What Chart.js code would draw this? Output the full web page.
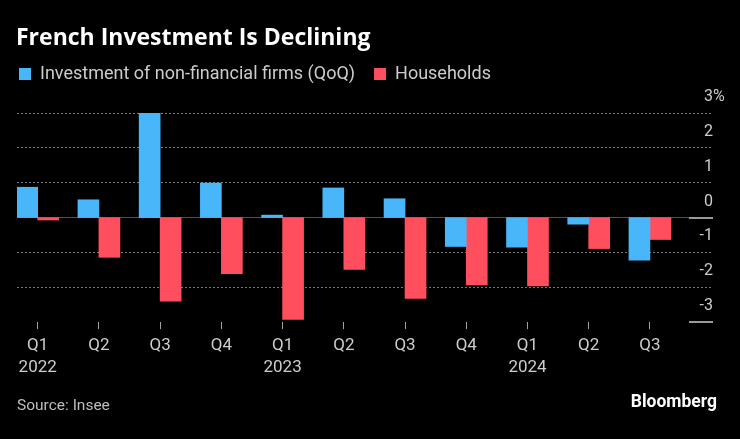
<!DOCTYPE html>
<html>
<head>
<meta charset="utf-8">
<script src="https://cdn.jsdelivr.net/npm/chart.js@4.4.1/dist/chart.umd.min.js"></script>
<style>
html,body{margin:0;padding:0;background:#000;}
#wrap{position:relative;width:740px;height:439px;overflow:hidden;background:#000;}
#c{position:absolute;left:0;top:0;}
.txt{position:absolute;white-space:nowrap;line-height:1;font-family:Roboto,"Noto Sans",sans-serif;}
#title{left:16px;top:25px;font-size:23px;font-weight:bold;color:#fff;font-family:"Open Sans",Roboto,sans-serif;}
#source{left:17px;top:398px;font-size:15.5px;color:#bdbdbd;}
#brand{right:23px;top:393px;font-size:17.5px;font-weight:bold;color:#fff;}
</style>
</head>
<body>
<div id="wrap">
<canvas id="c" width="740" height="439"></canvas>
<div class="txt" id="title">French Investment Is Declining</div>
<div class="txt" id="source">Source: Insee</div>
<div class="txt" id="brand">Bloomberg</div>
</div>
<script>
// ---- data ----
const quarters = ['Q1','Q2','Q3','Q4','Q1','Q2','Q3','Q4','Q1','Q2','Q3'];
const years    = ['2022','','','','2023','','','','2024','',''];
const firms      = [0.87, 0.51, 3.00, 0.99, 0.07, 0.85, 0.54, -0.83, -0.85, -0.19, -1.22];
const households = [-0.07, -1.14, -2.40, -1.61, -2.92, -1.49, -2.32, -1.93, -1.96, -0.89, -0.63];
const yTicks = [-3, -2, -1, 0, 1, 2, 3];
const seriesNames = ['Investment of non-financial firms (QoQ)', 'Households'];

// ---- styles ----
const BLUE = '#49b6fa';
const RED = '#ff4f5e';
const FONT = 'Roboto, "Noto Sans", sans-serif';
const LABEL = '#cccccc';

const toPoints = arr => arr.map((v, i) => ({x: i, y: v}));

const extras = {
  id: 'extras',
  beforeDatasetsDraw(chart) {
    const {ctx, chartArea: a, scales: {y}} = chart;
    ctx.save();
    ctx.strokeStyle = '#9a9a9a';
    ctx.lineWidth = 2;
    [0, -3].forEach(v => {
      const py = Math.round(y.getPixelForValue(v));
      ctx.beginPath();
      ctx.moveTo(a.right - 24, py);
      ctx.lineTo(a.right, py);
      ctx.stroke();
    });
    ctx.restore();
  },
  afterDraw(chart) {
    const {ctx, chartArea: a, scales: {y}} = chart;
    ctx.save();
    ctx.font = '16px ' + FONT;
    ctx.fillStyle = LABEL;
    ctx.textAlign = 'left';
    ctx.textBaseline = 'middle';
    ctx.fillText('%', a.right, y.getPixelForValue(yTicks[yTicks.length - 1]) - 16);
    ctx.restore();
  }
};

new Chart(document.getElementById('c'), {
  type: 'bar',
  data: {
    datasets: [
      {label: seriesNames[0], data: toPoints(firms), backgroundColor: BLUE, borderWidth: 0},
      {label: seriesNames[1], data: toPoints(households), backgroundColor: RED, borderWidth: 0}
    ]
  },
  options: {
    responsive: false,
    animation: false,
    devicePixelRatio: 1,
    barThickness: 21,
    layout: {padding: {left: 0, right: 27, top: 46, bottom: 55}},
    plugins: {
      title: {display: false},
      tooltip: {enabled: false},
      legend: {
        display: true,
        position: 'top',
        align: 'start',
        labels: {
          color: LABEL,
          font: {family: FONT, size: 18},
          boxWidth: 12,
          boxHeight: 12,
          padding: 19
        }
      }
    },
    scales: {
      x: {
        type: 'linear',
        offset: false,
        min: -0.338,
        max: 11.03,
        grid: {display: true, offset: false, drawOnChartArea: false, drawTicks: true, tickLength: 7, tickColor: '#a0a0a0', tickWidth: 1},
        border: {display: false},
        afterBuildTicks: axis => { axis.ticks = quarters.map((q, i) => ({value: i})); },
        ticks: {
          autoSkip: false,
          maxRotation: 0,
          padding: 5,
          color: LABEL,
          font: {family: FONT, size: 17, lineHeight: 1.32},
          callback: v => (years[v] ? [quarters[v], years[v]] : quarters[v])
        }
      },
      xTop: {
        type: 'linear',
        position: 'top',
        display: true,
        grid: {display: false, drawTicks: false},
        border: {display: false},
        ticks: {display: false},
        afterFit: s => { s.height = 20; }
      },
      yLeft: {
        type: 'linear',
        position: 'left',
        display: true,
        grid: {display: false, drawTicks: false},
        border: {display: false},
        ticks: {display: false},
        afterFit: s => { s.width = 17; }
      },
      y: {
        type: 'linear',
        position: 'right',
        min: -3,
        max: 3,
        afterBuildTicks: axis => { axis.ticks = yTicks.map(v => ({value: v})); },
        grid: {
          drawTicks: false,
          lineWidth: 1,
          color: c => (c.tick && c.tick.value === 0) ? '#505050' : ((c.tick && c.tick.value === -3) ? 'rgba(0,0,0,0)' : '#7a7a7a')
        },
        border: {
          display: false,
          dash: c => (c.tick && c.tick.value === 0) ? [] : [2, 2]
        },
        ticks: {
          mirror: true,
          padding: 0,
          labelOffset: -16,
          color: LABEL,
          font: {family: FONT, size: 16},
          callback: v => String(v)
        }
      }
    }
  },
  plugins: [extras]
});
</script>
</body>
</html>
